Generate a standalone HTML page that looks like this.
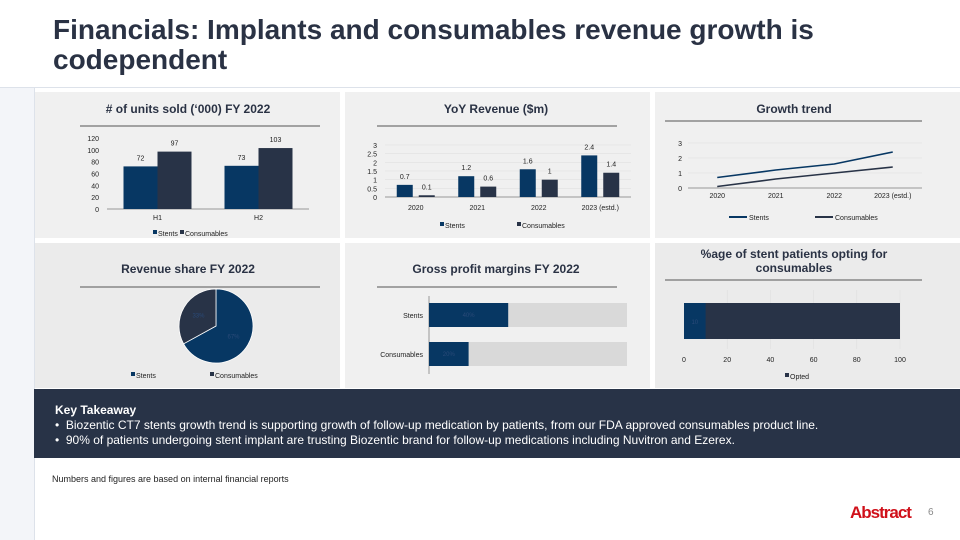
<!DOCTYPE html>
<html><head><meta charset="utf-8"><style>
body{margin:0;width:960px;height:540px;overflow:hidden;background:#fff;font-family:"Liberation Sans",sans-serif;position:relative}
.abs{position:absolute}
svg text{font-family:"Liberation Sans",sans-serif}
</style></head><body>
<div class="abs" style="left:0;top:88px;width:34px;height:452px;background:#f3f5f9;border-right:1px solid #dde2ea"></div>
<div class="abs" style="left:0;top:87px;width:960px;height:1px;background:#dde2ea"></div>
<div class="abs" style="left:53px;top:15px;font-size:28px;font-weight:bold;color:#2a3244;line-height:30px">Financials: Implants and consumables revenue growth is<br>codependent</div>
<svg class="abs" style="left:0;top:0" width="960" height="540">
<g>
<rect x="35" y="92" width="305" height="146" fill="#f0f0f0"/>
<rect x="345" y="92" width="305" height="146" fill="#f0f0f0"/>
<rect x="655" y="92" width="305" height="146" fill="#f0f0f0"/>
<rect x="35" y="243" width="305" height="145" fill="#ebebeb"/>
<rect x="345" y="243" width="305" height="145" fill="#f0f0f0"/>
<rect x="655" y="243" width="305" height="145" fill="#ebebeb"/>
</g>
<g id="g1"></g>
<g id="g2"></g>
<g id="g3"></g>
<g id="g4"></g>
<g id="g5"></g>
<g id="g6"></g>
</svg>
<div class="abs" style="left:34px;top:389px;width:926px;height:69px;background:#283347;color:#fff;font-size:12px;line-height:15px">
<div style="position:absolute;left:21px;top:14px;font-weight:bold">Key Takeaway</div>
<div style="position:absolute;left:21px;top:29px">•&nbsp; Biozentic CT7 stents growth trend is supporting growth of follow-up medication by patients, from our FDA approved consumables product line.</div>
<div style="position:absolute;left:21px;top:44px">•&nbsp; 90% of patients undergoing stent implant are trusting Biozentic brand for follow-up medications including Nuvitron and Ezerex.</div>
</div>
<div class="abs" style="left:52px;top:474px;font-size:9px;color:#222">Numbers and figures are based on internal financial reports</div>
<div class="abs" style="left:850px;top:503px;font-size:17px;font-weight:bold;color:#d0101a;letter-spacing:-1px">Abstract</div>
<div class="abs" style="left:928px;top:507px;font-size:10px;color:#888">6</div>
<script>
const NS="http://www.w3.org/2000/svg";
function mk(p,t,a,txt){const e=document.createElementNS(NS,t);for(const k in a)e.setAttribute(k,a[k]);if(txt!==undefined)e.textContent=txt;p.appendChild(e);return e;}
const NAVY="#073763",DARK="#283347";
// data
const unitCats=["H1","H2"];const unitStents=[72,73];const unitCons=[97,103];const unitTicks=[0,20,40,60,80,100,120];
const revCats=["2020","2021","2022","2023 (estd.)"];const revStents=[0.7,1.2,1.6,2.4];const revCons=[0.1,0.6,1,1.4];const revTicks=["0","0.5","1","1.5","2","2.5","3"];
const trendTicks=[0,1,2,3];
const shareLabels=["Stents","Consumables"];const shareVals=[67,33];
const marginCats=["Stents","Consumables"];const marginVals=[40,20];
const optCats=["Opted"];const optVals=[10];const optTicks=[0,20,40,60,80,100];

function title(g,cx,y,t,name,lx1,lx2,ly){const e=mk(g,"text",{x:cx,y:y,"text-anchor":"middle","font-size":12,"font-weight":"bold",fill:"#2a3244"},t);mk(g,"line",{x1:lx1,x2:lx2,y1:ly,y2:ly,stroke:"#555","stroke-width":1});}
function legend(g,items,y){items.forEach(it=>{if(it.line)mk(g,"line",{x1:it.x-20,x2:it.x-2,y1:y-3,y2:y-3,stroke:it.c,"stroke-width":2});else mk(g,"rect",{x:it.x-5,y:y-6,width:4,height:4,fill:it.c});const e=mk(g,"text",{x:it.x,y:y,"font-size":7,fill:"#222"},it.t);});}

// chart 1
(function(){const g=document.getElementById("g1");title(g,188,113,"# of units sold (‘000) FY 2022","units-title",80,320,126);
const y0=209,y1=138,ymax=120,X0=107,X1=309;const ys=v=>y0-(v/ymax)*(y0-y1);
unitTicks.forEach(t=>mk(g,"text",{x:99,y:ys(t)+3,"font-size":7,"text-anchor":"end",fill:"#222"},t));
mk(g,"line",{x1:X0,x2:X1,y1:y0,y2:y0,stroke:"#999"});
const bw=(X1-X0)/unitCats.length;
unitCats.forEach((c,i)=>{const cx=X0+bw*(i+0.5);const w=34;
[[unitStents[i],NAVY,cx-w],[unitCons[i],DARK,cx]].forEach(([v,col,x])=>{const r=mk(g,"rect",{x:x,y:ys(v),width:w,height:y0-ys(v),fill:col});mk(g,"text",{x:x+w/2,y:ys(v)-6,"text-anchor":"middle","font-size":7,fill:"#222"},v);});
mk(g,"text",{x:cx,y:y0+11,"text-anchor":"middle","font-size":7,fill:"#222"},c);});
legend(g,[{x:158,c:NAVY,t:"Stents"},{x:185,c:DARK,t:"Consumables"}],236);})();

// chart 2
(function(){const g=document.getElementById("g2");title(g,496,113,"YoY Revenue ($m)","revenue-title",377,617,126);
const y0=197,y1=145,X0=385,X1=631;const ys=v=>y0-(v/3)*(y0-y1);
revTicks.forEach(t=>mk(g,"text",{x:377,y:ys(+t)+3,"font-size":7,"text-anchor":"end",fill:"#222"},t));
revTicks.forEach(t=>{if(+t>0)mk(g,"line",{x1:X0,x2:X1,y1:ys(+t),y2:ys(+t),stroke:"#ddd","stroke-width":0.5});});
mk(g,"line",{x1:X0,x2:X1,y1:y0,y2:y0,stroke:"#999"});
const bw=(X1-X0)/revCats.length;
revCats.forEach((c,i)=>{const cx=X0+bw*(i+0.5);const w=16;
[[revStents[i],NAVY,cx-w-3],[revCons[i],DARK,cx+3]].forEach(([v,col,x])=>{const r=mk(g,"rect",{x:x,y:ys(v),width:w,height:y0-ys(v),fill:col});mk(g,"text",{x:x+w/2,y:ys(v)-6,"text-anchor":"middle","font-size":7,fill:"#222"},v);});
mk(g,"text",{x:cx,y:y0+13,"text-anchor":"middle","font-size":7,fill:"#222"},c);});
legend(g,[{x:445,c:NAVY,t:"Stents"},{x:522,c:DARK,t:"Consumables"}],228);})();

// chart 3
(function(){const g=document.getElementById("g3");title(g,794,113,"Growth trend","trend-title",665,922,121);
const y0=188,y1=143,X0=688,X1=922;const ys=v=>y0-(v/3)*(y0-y1);
trendTicks.forEach(t=>{mk(g,"text",{x:682,y:ys(t)+3,"font-size":7,"text-anchor":"end",fill:"#222"},t);mk(g,"line",{x1:X0,x2:X1,y1:ys(t),y2:ys(t),stroke:t?"#ddd":"#999","stroke-width":t?0.5:1});});
const bw=(X1-X0)/revCats.length;const xs=i=>X0+bw*(i+0.5);
revCats.forEach((c,i)=>mk(g,"text",{x:xs(i),y:y0+10,"text-anchor":"middle","font-size":7,fill:"#222"},c));
[[revStents,NAVY,"stents-line"],[revCons,DARK,"consumables-line"]].forEach(([arr,col,n])=>{const p=mk(g,"polyline",{points:arr.map((v,i)=>xs(i)+","+ys(v)).join(" "),fill:"none",stroke:col,"stroke-width":1.6});});
legend(g,[{x:749,c:NAVY,t:"Stents",line:1},{x:835,c:DARK,t:"Consumables",line:1}],220);})();

// chart 4 pie
(function(){const g=document.getElementById("g4");title(g,188,273,"Revenue share FY 2022","share-title",80,320,287);
const cx=216,cy=326,r=37;let a=-Math.PI/2;const tot=shareVals.reduce((s,v)=>s+v,0);const cols=[NAVY,DARK];
shareVals.forEach((v,i)=>{const b=a+v/tot*2*Math.PI;const x1=cx+r*Math.cos(a),y1=cy+r*Math.sin(a),x2=cx+r*Math.cos(b),y2=cy+r*Math.sin(b);
const p=mk(g,"path",{d:`M${cx},${cy}L${x1},${y1}A${r},${r} 0 ${b-a>Math.PI?1:0} 1 ${x2},${y2}Z`,fill:cols[i],stroke:"#fff","stroke-width":0.8});
const m=(a+b)/2;mk(g,"text",{x:cx+r*0.55*Math.cos(m),y:cy+r*0.55*Math.sin(m)+2,"text-anchor":"middle","font-size":6,fill:"#2a4a78"},v+"%");a=b;});
legend(g,[{x:136,c:NAVY,t:"Stents"},{x:215,c:DARK,t:"Consumables"}],378);})();

// chart 5
(function(){const g=document.getElementById("g5");title(g,496,273,"Gross profit margins FY 2022","margin-title",377,617,287);
const X0=429,X1=627;const xs=v=>X0+(v/100)*(X1-X0);const tops=[303,342],h=24;
mk(g,"line",{x1:X0,x2:X0,y1:296,y2:374,stroke:"#999"});
marginCats.forEach((c,i)=>{mk(g,"rect",{x:X0,y:tops[i],width:X1-X0,height:h,fill:"#d9d9d9"});const r=mk(g,"rect",{x:X0,y:tops[i],width:xs(marginVals[i])-X0,height:h,fill:NAVY});
mk(g,"text",{x:(X0+xs(marginVals[i]))/2,y:tops[i]+h/2+2,"text-anchor":"middle","font-size":6,fill:"#2a4a78"},marginVals[i]+"%");
mk(g,"text",{x:X0-6,y:tops[i]+h/2+3,"text-anchor":"end","font-size":7,fill:"#222"},c);});})();

// chart 6
(function(){const g=document.getElementById("g6");const t=mk(g,"text",{x:794,y:258,"text-anchor":"middle","font-size":12,"font-weight":"bold",fill:"#2a3244"});
mk(t,"tspan",{x:794,dy:0},"%age of stent patients opting for");mk(t,"tspan",{x:794,dy:14},"consumables");
mk(g,"line",{x1:665,x2:922,y1:280,y2:280,stroke:"#555"});
const X0=684,X1=900;const xs=v=>X0+(v/100)*(X1-X0);
optTicks.forEach(tk=>{if(tk)mk(g,"line",{x1:xs(tk),x2:xs(tk),y1:290,y2:349,stroke:"#ddd","stroke-width":0.5});mk(g,"text",{x:xs(tk),y:362,"text-anchor":"middle","font-size":7,fill:"#222"},tk);});
mk(g,"rect",{x:X0,y:303,width:X1-X0,height:36,fill:DARK});
const r=mk(g,"rect",{x:X0,y:303,width:xs(optVals[0])-X0,height:36,fill:NAVY});
mk(g,"text",{x:(X0+xs(optVals[0]))/2,y:324,"text-anchor":"middle","font-size":6,fill:"#2a4a78"},optVals[0]);
legend(g,[{x:790,c:DARK,t:optCats[0]}],379);})();
</script>
</body></html>
